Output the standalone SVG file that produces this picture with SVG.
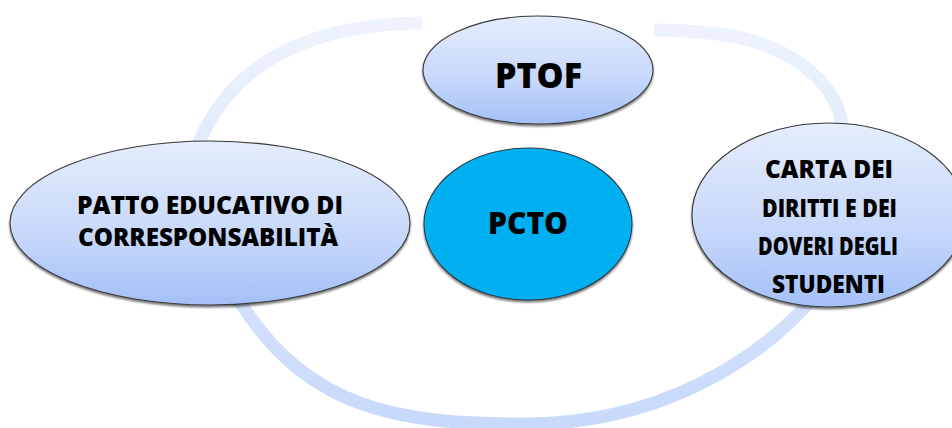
<svg xmlns="http://www.w3.org/2000/svg" width="952" height="428" viewBox="0 0 952 428">
  <defs>
    <linearGradient id="nodeGrad" x1="0" y1="0" x2="0" y2="1">
      <stop offset="0" stop-color="#E5EDFD"/>
      <stop offset="0.55" stop-color="#C9D9FA"/>
      <stop offset="1" stop-color="#A3C0F8"/>
    </linearGradient>
    <linearGradient id="ringGrad" gradientUnits="userSpaceOnUse" x1="0" y1="15" x2="0" y2="430">
      <stop offset="0" stop-color="#EEF3FE"/>
      <stop offset="1" stop-color="#C7D9FA"/>
    </linearGradient>
    <filter id="shadow" x="-10%" y="-10%" width="120%" height="130%">
      <feGaussianBlur in="SourceAlpha" stdDeviation="1.2"/>
      <feOffset dx="0" dy="2" result="b"/>
      <feComponentTransfer><feFuncA type="linear" slope="0.55"/></feComponentTransfer>
      <feMerge><feMergeNode/><feMergeNode in="SourceGraphic"/></feMerge>
    </filter>
  </defs>
  <style>
    .node { fill: url(#nodeGrad); stroke: #3A3A3A; stroke-width: 1.1; filter: url(#shadow); }
    .center { fill: #00B0F0; stroke: #2A3A4A; stroke-width: 1.1; filter: url(#shadow); }
    .ring { fill: none; stroke: url(#ringGrad); stroke-width: 13; stroke-linecap: butt; }
    text { font-family: "Open Sans", Lato, "Liberation Sans", sans-serif; font-weight: 800; fill: #000; text-anchor: middle; }
  </style>
  <rect width="952" height="428" fill="#FFFFFF"/>
  <g id="connectors">
    <path class="ring" d="M422,23 C330,24 240,50 200,140 C180,185 205,260 242,305 C310,410 400,424 524,424 C660,424 755,360 805,307 C830,270 849,161 842,123 C835,85 800,58 765,45 C740,36 700,30 654,30"/>
  </g>
  <g id="node-ptof">
    <ellipse class="node" cx="538" cy="70" rx="115" ry="54"/>
    <text x="538.5" y="88" font-size="35" textLength="87" lengthAdjust="spacingAndGlyphs">PTOF</text>
  </g>
  <g id="node-patto">
    <ellipse class="node" cx="210" cy="223" rx="200" ry="82"/>
    <text x="210" y="214" font-size="24" textLength="266" lengthAdjust="spacingAndGlyphs">PATTO EDUCATIVO DI</text>
    <text x="208" y="246" font-size="24" textLength="260" lengthAdjust="spacingAndGlyphs">CORRESPONSABILITÀ</text>
  </g>
  <g id="node-carta">
    <ellipse class="node" cx="829" cy="215" rx="137" ry="92"/>
    <text x="829" y="178" font-size="25" textLength="128" lengthAdjust="spacingAndGlyphs">CARTA DEI</text>
    <text x="829.5" y="217" font-size="25" textLength="135" lengthAdjust="spacingAndGlyphs">DIRITTI E DEI</text>
    <text x="828" y="255" font-size="25" textLength="140" lengthAdjust="spacingAndGlyphs">DOVERI DEGLI</text>
    <text x="828.5" y="293" font-size="25" textLength="113" lengthAdjust="spacingAndGlyphs">STUDENTI</text>
  </g>
  <g id="node-pcto">
    <ellipse class="center" cx="528" cy="224" rx="104" ry="76"/>
    <text x="528" y="234" font-size="30" textLength="80" lengthAdjust="spacingAndGlyphs">PCTO</text>
  </g>
</svg>
